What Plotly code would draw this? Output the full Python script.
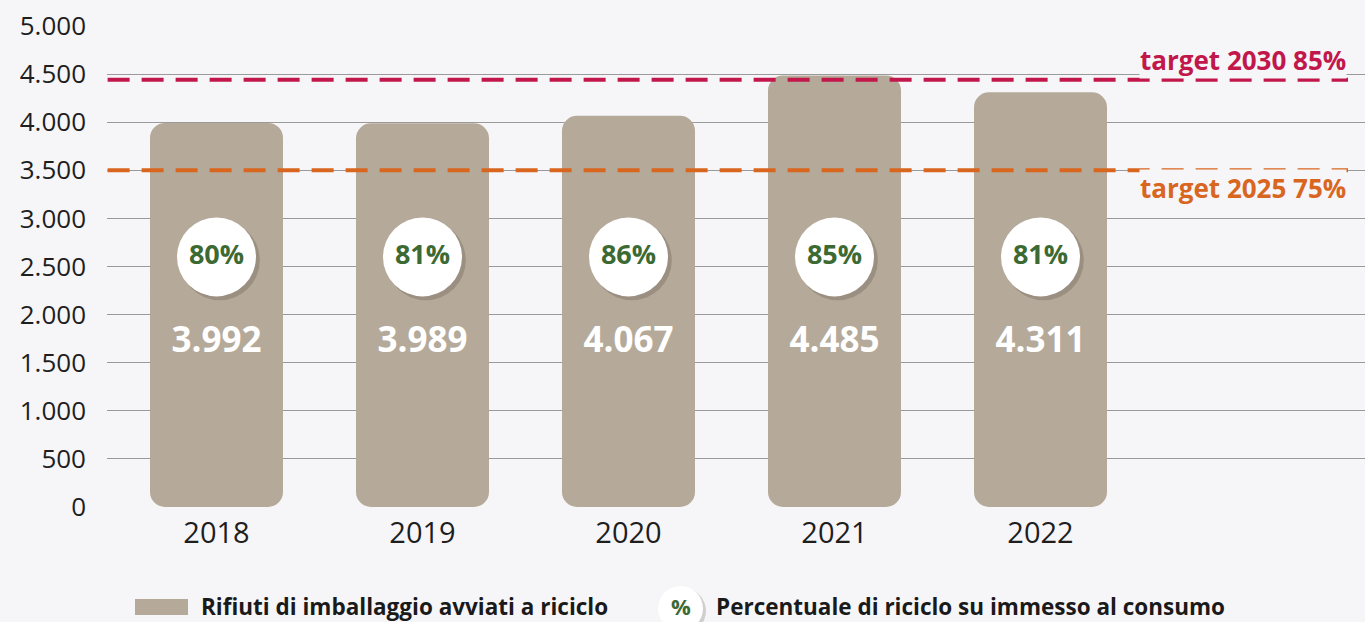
import plotly.graph_objects as go

years = [2018, 2019, 2020, 2021, 2022]
tonnes = [3992, 3989, 4067, 4485, 4311]
recycle_pct = [80, 81, 86, 85, 81]
value_labels = ["3.992", "3.989", "4.067", "4.485", "4.311"]
target_2030 = 4440
target_2025 = 3500
y_ticks = [0, 500, 1000, 1500, 2000, 2500, 3000, 3500, 4000, 4500, 5000]

BG = "#f6f6f8"
BAR = "#b5aa9a"
RED = "#c1174b"
ORANGE = "#d9661f"
GREEN = "#3d6932"
FONT = "Open Sans"
PX_PER_YEAR = 206.0
PLOT_W = 1258
BAR_W = 133 / PX_PER_YEAR
X0 = 2018 - (133 / 2 + 43) / PX_PER_YEAR
X1 = X0 + PLOT_W / PX_PER_YEAR
CIRCLE_Y = 2600
VALUE_Y = 1700

fig = go.Figure()

# Bars drawn in overlapping pieces so both ends get rounded corners
bar_common = dict(width=BAR_W, hoverinfo="skip", showlegend=False)
fig.add_trace(go.Bar(x=years, y=[-0.6 * v for v in tonnes], base=[0.6 * v for v in tonnes],
                     marker=dict(color=BAR, cornerradius=15, line=dict(width=0)), **bar_common))
fig.add_trace(go.Bar(x=years, y=[0.6 * v for v in tonnes], base=[0.4 * v for v in tonnes],
                     marker=dict(color=BAR, cornerradius=15, line=dict(width=0)), **bar_common))

# target lines
x_lo, x_hi = X0 + 0.003, X0 + 1241 / PX_PER_YEAR
fig.add_trace(go.Scatter(x=[x_lo, x_hi], y=[target_2030, target_2030], mode="lines",
                         line=dict(color=RED, width=4, dash="22px,12px"), hoverinfo="skip", showlegend=False))
fig.add_trace(go.Scatter(x=[x_lo, x_hi], y=[target_2025, target_2025], mode="lines",
                         line=dict(color=ORANGE, width=4, dash="22px,12px"), hoverinfo="skip", showlegend=False))

# circle shadows and circles
fig.add_trace(go.Scatter(x=[y + 0.016 for y in years], y=[CIRCLE_Y - 35] * len(years), mode="markers",
                         marker=dict(size=80, color="rgba(60,50,40,0.22)", line=dict(width=0)),
                         hoverinfo="skip", showlegend=False))
fig.add_trace(go.Scatter(x=years, y=[CIRCLE_Y] * len(years), mode="markers+text",
                         marker=dict(size=79, color="white", line=dict(width=0)),
                         text=[f"{p}%" for p in recycle_pct], textposition="middle center",
                         textfont=dict(family=FONT, size=27, color=GREEN, weight="bold"),
                         hoverinfo="skip", showlegend=False))
fig.add_trace(go.Scatter(x=years, y=[VALUE_Y] * len(years), mode="text", text=value_labels,
                         textposition="middle center",
                         textfont=dict(family=FONT, size=35, color="white", weight="bold"),
                         hoverinfo="skip", showlegend=False))

fig.add_annotation(x=1, xref="paper", y=target_2030, yref="y", xanchor="right", yanchor="bottom",
                   text="<b>target 2030 85%</b>", showarrow=False, xshift=-18, yshift=1,
                   font=dict(family=FONT, size=26, color=RED), bgcolor=BG, borderpad=0)
fig.add_annotation(x=1, xref="paper", y=target_2025, yref="y", xanchor="right", yanchor="top",
                   text="<b>target 2025 75%</b>", showarrow=False, xshift=-18, yshift=1,
                   font=dict(family=FONT, size=26, color=ORANGE), bgcolor=BG, borderpad=0)

# legend (bottom)
def px_x(p):
    return (p - 107) / 1258


def px_y(p):
    return -(p - 507) / 481


fig.add_shape(type="rect", xref="paper", yref="paper", x0=px_x(135), x1=px_x(188),
              y0=px_y(615), y1=px_y(599), fillcolor=BAR, line=dict(width=0), layer="above")
fig.add_annotation(x=px_x(199), xref="paper", y=px_y(606), yref="paper",
                   xanchor="left", yanchor="middle", showarrow=False,
                   text="<b>Rifiuti di imballaggio avviati a riciclo</b>",
                   font=dict(family=FONT, size=22.5, color="#1a1a1a"))
fig.add_shape(type="circle", xref="paper", yref="paper", x0=px_x(660), x1=px_x(706),
              y0=px_y(634), y1=px_y(588), fillcolor="rgba(60,50,40,0.2)",
              line=dict(width=0), layer="above")
fig.add_shape(type="circle", xref="paper", yref="paper", x0=px_x(658), x1=px_x(703),
              y0=px_y(631), y1=px_y(586), fillcolor="white",
              line=dict(width=0), layer="above")
fig.add_annotation(x=px_x(681), xref="paper", y=px_y(606), yref="paper",
                   xanchor="center", yanchor="middle", showarrow=False,
                   text="<b>%</b>", font=dict(family=FONT, size=22, color=GREEN))
fig.add_annotation(x=px_x(714), xref="paper", y=px_y(606), yref="paper",
                   xanchor="left", yanchor="middle", showarrow=False,
                   text="<b>Percentuale di riciclo su immesso al consumo</b>",
                   font=dict(family=FONT, size=22.5, color="#1a1a1a"))

fig.update_layout(
    width=1365, height=622,
    margin=dict(l=107, r=0, t=26, b=115),
    paper_bgcolor=BG, plot_bgcolor=BG,
    barmode="overlay",
    separators=",.",
    font=dict(family=FONT),
    xaxis=dict(range=[X0, X1], tickmode="array", tickvals=years,
               ticktext=[str(y) for y in years], showgrid=False, zeroline=False,
               showline=False, ticks="", ticklabelstandoff=6,
               tickfont=dict(family=FONT, size=29, color="#1e1e1e")),
    yaxis=dict(range=[0, 5000], tickvals=y_ticks, tickformat=",d", showgrid=True,
               gridcolor="#9a9a9a", gridwidth=1, zeroline=False, showline=False,
               ticks="", ticklabelstandoff=20, tickfont=dict(family=FONT, size=26, color="#1e1e1e")),
)

fig.write_html("out.html", config={"displayModeBar": False},
               post_script="document.body.style.margin='0';document.body.style.background='%s';" % BG)
